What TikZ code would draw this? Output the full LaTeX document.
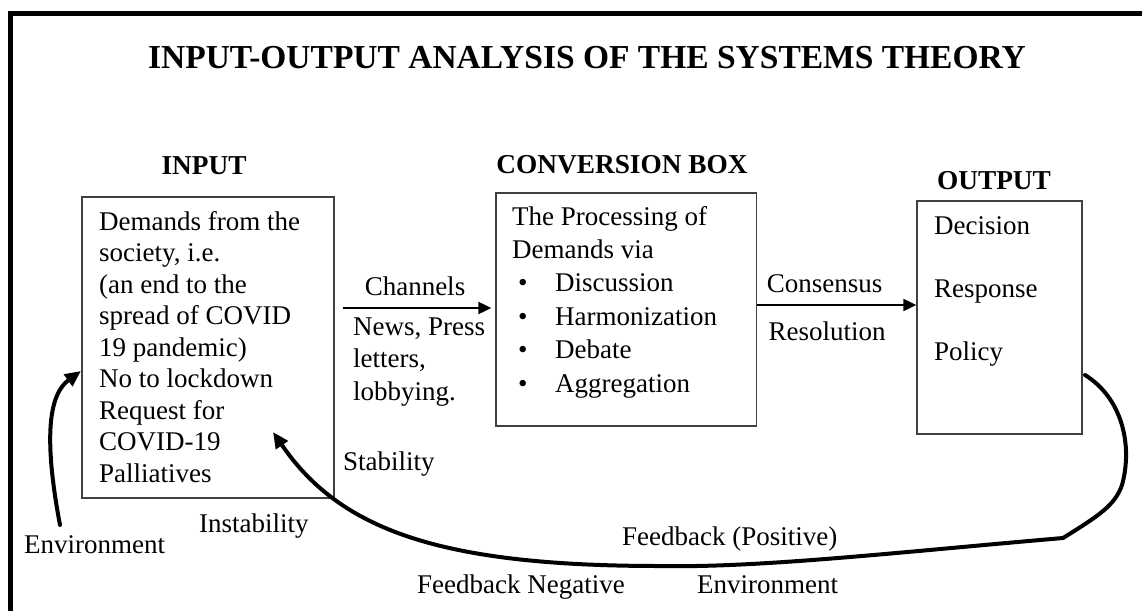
\documentclass[tikz,border=0pt]{standalone}
\usepackage{fontspec}
\setmainfont{Liberation Serif}
\usetikzlibrary{arrows.meta}
\tikzset{
  box/.style={draw=black!75, line width=1.3pt, inner sep=0pt},
  txt/.style={inner sep=0pt, anchor=base west, font=\fontsize{27}{31.5}\selectfont},
  head/.style={inner sep=0pt, anchor=base, font=\fontsize{27.3}{30}\selectfont\bfseries},
  flow/.style={line width=2pt, -{Triangle[length=13pt,width=12pt]}},
  fb/.style={line width=4pt, line cap=round, -{Triangle[length=16pt,width=14pt]}},
}
\begin{document}
\begin{tikzpicture}[x=1pt,y=-1pt]
\clip (0,0) rectangle (1142,610);
\fill[white] (0,0) rectangle (1142,610);
% outer frame (only top and left edges visible)
\draw[line width=5pt] (10.5,14) rectangle (1200,700);

% title
\node[inner sep=0pt, anchor=base, font=\fontsize{33.5}{36}\selectfont\bfseries] (title) at (587,68) {INPUT-OUTPUT ANALYSIS OF THE SYSTEMS THEORY};

% headings
\node[head] (hin) at (204,174) {INPUT};
\node[head] (hconv) at (622,173) {CONVERSION BOX};
\node[head] (hout) at (994,189) {OUTPUT};

% boxes
\node[box, minimum width=252pt, minimum height=301pt] (inp) at (208,347.5) {};
\node[box, minimum width=260.5pt, minimum height=233pt] (conv) at (626.25,309.5) {};
\node[box, minimum width=165pt, minimum height=233pt] (outp) at (999.5,317.5) {};

% box texts
\node[txt] (intext) at (99,230) {\parbox[t]{240pt}{\raggedright\fontsize{27}{31.5}\selectfont
Demands from the\\ society, i.e.\\ (an end to the\\ spread of COVID\\ 19 pandemic)\\ No to lockdown\\ Request for\\ COVID-19\\ Palliatives}};

\node[txt] (convtext) at (512,225) {\parbox[t]{245pt}{\raggedright\fontsize{27}{33.4}\selectfont
The Processing of\\ Demands via\\
\makebox[43pt][l]{\hspace*{6pt}\textbullet}Discussion\\
\makebox[43pt][l]{\hspace*{6pt}\textbullet}Harmonization\\
\makebox[43pt][l]{\hspace*{6pt}\textbullet}Debate\\
\makebox[43pt][l]{\hspace*{6pt}\textbullet}Aggregation}};

\node[txt] (outtext) at (934,234) {\parbox[t]{150pt}{\raggedright\fontsize{27}{63}\selectfont
Decision\\ Response\\ Policy}};

% connectors between boxes
\coordinate (c0) at ([xshift=8pt,yshift=1.5pt]inp.east |- conv.west);
\draw[flow] (c0) -- ([xshift=-4pt]c0 -| conv.west);
\coordinate (c1) at ([yshift=4.5pt]conv.east);
\draw[flow] (c1) -- (c1 -| outp.west);

% connector labels
\node[txt, anchor=base] (lchan) at (415,295) {Channels};
\node[txt] (lnews) at (353,335) {\parbox[t]{140pt}{\raggedright\fontsize{27}{32.5}\selectfont News, Press\\ letters,\\ lobbying.}};
\node[txt, anchor=base] (lcons) at (824.5,292) {Consensus};
\node[txt, anchor=base] (lres) at (827,340) {Resolution};

% environment arrow
\coordinate (envs) at (60,525);
\coordinate (envtip) at (81,371);
\draw[fb] (envs) .. controls (44,440) and (48,395) .. (envtip);

% feedback loop
\coordinate (fbstart) at (1085,375);
\coordinate (fbtip) at (273,432);
\draw[fb] (fbstart) .. controls (1122,398) and (1133,445) .. (1122,485)
  .. controls (1115,505) and (1100,515) .. (1063,538)
  .. controls (900,552) and (760,568) .. (660,566)
  .. controls (440,566) and (340,530) .. (fbtip);

% other labels
\node[txt] (lenv1) at (24,553) {Environment};
\node[txt] (linst) at (199,532) {Instability};
\node[txt] (lstab) at (343,470) {Stability};
\node[txt] (lfpos) at (622,545) {Feedback (Positive)};
\node[txt] (lfneg) at (417,593) {Feedback Negative};
\node[txt] (lenv2) at (697,593) {Environment};
\end{tikzpicture}
\end{document}
